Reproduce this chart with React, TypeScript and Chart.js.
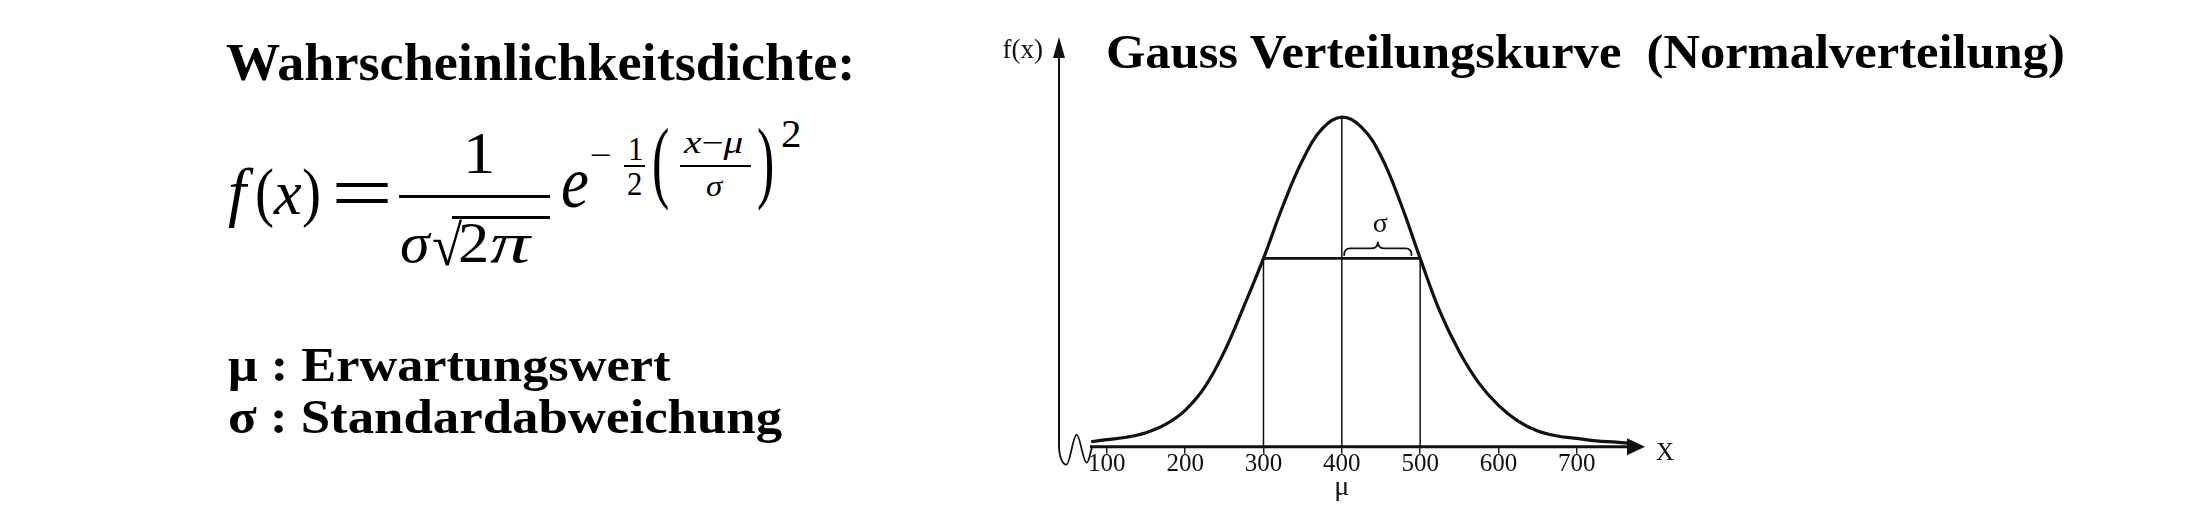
import React, { useEffect, useRef } from "react";
import { Chart, registerables } from "chart.js";

Chart.register(...registerables);

// ---- data ----
const CURVE_X = [80, 100, 125, 150, 175, 200, 225, 250, 275, 300, 325, 350, 375, 400, 425, 450, 475, 500, 525, 550, 575, 600, 625, 650, 675, 700, 725, 750, 775];
const CURVE_Y = [0.06, 0.085, 0.115, 0.17, 0.27, 0.44, 0.72, 1.15, 1.7, 2.28, 2.92, 3.47, 3.85, 3.99, 3.87, 3.52, 2.95, 2.28, 1.64, 1.15, 0.77, 0.5, 0.31, 0.19, 0.13, 0.1, 0.07, 0.055, 0.035];
const TICK_VALUES = [100, 200, 300, 400, 500, 600, 700];
const MU = 400;
const SIGMA_MARK_X = [300, 400, 500];
const SIGMA_MARK_Y = [2.28, 3.99, 2.28];
const BRACE_X = [403, 489];
const BRACE_Y = [2.32, 2.4, 2.48];
const SIGMA_LABEL_X = 449;
const X_RANGE = [39, 787];
const Y_RANGE = [0, 4.96];

const INK = "#111";
const SERIF = '"Liberation Serif", "Times New Roman", serif';

const decor = {
  id: "decor",
  afterDatasetsDraw(chart: any) {
    const { ctx, chartArea: ca, scales } = chart;
    const xs = scales.x;
    const ys = scales.y;
    const ax = ca.left;
    const ay = ys.getPixelForValue(0);
    ctx.save();
    ctx.strokeStyle = INK;
    ctx.fillStyle = INK;
    ctx.lineCap = "round";
    // y axis
    ctx.lineWidth = 2;
    ctx.beginPath();
    ctx.moveTo(ax, ay);
    ctx.lineTo(ax, ca.top + 18);
    ctx.stroke();
    ctx.beginPath();
    ctx.moveTo(ax, ca.top);
    ctx.lineTo(ax - 6, ca.top + 21);
    ctx.lineTo(ax + 6, ca.top + 21);
    ctx.closePath();
    ctx.fill();
    // squiggle (axis break)
    ctx.lineWidth = 1.8;
    ctx.beginPath();
    ctx.moveTo(ax, ay);
    ctx.bezierCurveTo(ax + 0.5, ay + 12, ax + 4, ay + 18, ax + 7.4, ay + 18);
    ctx.bezierCurveTo(ax + 11, ay + 18, ax + 14, ay - 12, ax + 17.7, ay - 12);
    ctx.bezierCurveTo(ax + 21, ay - 12, ax + 24, ay + 16, ax + 27.7, ay + 16);
    ctx.bezierCurveTo(ax + 30, ay + 16, ax + 31, ay + 6, ax + 33, ay + 1);
    ctx.stroke();
    // x axis
    ctx.lineWidth = 3;
    ctx.lineCap = "butt";
    ctx.beginPath();
    ctx.moveTo(ax + 31, ay);
    ctx.lineTo(ca.right - 15, ay);
    ctx.stroke();
    ctx.beginPath();
    ctx.moveTo(ca.right, ay);
    ctx.lineTo(ca.right - 18, ay - 8.5);
    ctx.lineTo(ca.right - 18, ay + 8.5);
    ctx.closePath();
    ctx.fill();
    // brace over sigma
    const b1 = xs.getPixelForValue(BRACE_X[0]);
    const b2 = xs.getPixelForValue(BRACE_X[1]);
    const bm = (b1 + b2) / 2;
    const yTip = ys.getPixelForValue(BRACE_Y[0]);
    const yBar = ys.getPixelForValue(BRACE_Y[1]);
    const yCusp = ys.getPixelForValue(BRACE_Y[2]);
    ctx.lineWidth = 1.8;
    ctx.lineCap = "round";
    ctx.beginPath();
    ctx.moveTo(b1, yTip);
    ctx.quadraticCurveTo(b1, yBar, b1 + 6, yBar);
    ctx.lineTo(bm - 6, yBar);
    ctx.quadraticCurveTo(bm, yBar, bm, yCusp);
    ctx.quadraticCurveTo(bm, yBar, bm + 6, yBar);
    ctx.lineTo(b2 - 6, yBar);
    ctx.quadraticCurveTo(b2, yBar, b2, yTip);
    ctx.stroke();
    // labels
    ctx.textBaseline = "alphabetic";
    ctx.font = `27px ${SERIF}`;
    ctx.textAlign = "right";
    ctx.fillText("f(x)", ax - 16, ca.top + 21);
    ctx.textAlign = "left";
    ctx.font = `25px ${SERIF}`;
    ctx.fillText("X", ca.right + 11, ay + 13);
    ctx.textAlign = "center";
    ctx.font = `28px ${SERIF}`;
    ctx.fillText("μ", xs.getPixelForValue(MU), ay + 48);
    ctx.font = `28px ${SERIF}`;
    ctx.fillText("σ", xs.getPixelForValue(SIGMA_LABEL_X), yCusp - 10);
    ctx.restore();
  },
};

function G(p: { t: React.ReactNode; x: number; b: number; s: number; it?: boolean; bold?: boolean; sx?: number; sy?: number }) {
  const asc = 0.8375 * p.s;
  return (
    <span
      style={{
        position: "absolute",
        left: p.x,
        top: p.b - asc,
        fontFamily: SERIF,
        fontSize: p.s,
        lineHeight: `${p.s}px`,
        fontStyle: p.it ? "italic" : "normal",
        fontWeight: p.bold ? 700 : 400,
        whiteSpace: "pre",
        color: "#000",
        transform: `scale(${p.sx ?? 1},${p.sy ?? 1})`,
        transformOrigin: `0px ${asc}px`,
      }}
    >
      {p.t}
    </span>
  );
}

function Rule(p: { x: number; w: number; y: number; h: number }) {
  return <div style={{ position: "absolute", left: p.x, top: p.y, width: p.w, height: p.h, background: "#000" }} />;
}

export default function App() {
  const ref = useRef<HTMLCanvasElement>(null);
  useEffect(() => {
    const curve = CURVE_X.map((x, i) => ({ x, y: CURVE_Y[i] }));
    const verticals = SIGMA_MARK_X.map((x, i) => ({
      data: [
        { x, y: 0 },
        { x, y: SIGMA_MARK_Y[i] },
      ],
      borderColor: INK,
      borderWidth: 1.5,
      pointRadius: 0,
    }));
    const chart = new Chart(ref.current!, {
      type: "line",
      data: {
        datasets: [
          {
            data: curve,
            borderColor: INK,
            borderWidth: 3.2,
            pointRadius: 0,
            tension: 0.4,
          } as any,
          ...verticals,
          {
            data: [
              { x: SIGMA_MARK_X[0], y: SIGMA_MARK_Y[0] },
              { x: SIGMA_MARK_X[2], y: SIGMA_MARK_Y[2] },
            ],
            borderColor: INK,
            borderWidth: 2.6,
            pointRadius: 0,
          },
        ],
      },
      options: {
        responsive: false,
        maintainAspectRatio: false,
        animation: false,
        devicePixelRatio: 1,
        layout: { padding: { left: 79, right: 555, top: 37, bottom: 30.3 } },
        plugins: { legend: { display: false }, tooltip: { enabled: false }, title: { display: false } },
        scales: {
          x: {
            type: "linear",
            min: X_RANGE[0],
            max: X_RANGE[1],
            afterBuildTicks: (s: any) => {
              s.ticks = TICK_VALUES.map((v) => ({ value: v }));
            },
            afterFit: (s: any) => {
              s.height = 40;
            },
            border: { display: false },
            grid: { display: true, drawOnChartArea: false, drawTicks: true, tickLength: 7, color: "#222", lineWidth: 1.5 },
            ticks: { font: { family: SERIF, size: 25 }, color: INK, padding: -4, autoSkip: false, maxRotation: 0 },
          },
          y: { type: "linear", display: false, min: Y_RANGE[0], max: Y_RANGE[1] },
        },
      } as any,
      plugins: [decor],
    });
    return () => chart.destroy();
  }, []);

  return (
    <div style={{ position: "absolute", left: 0, top: 0, width: 2200, height: 517, overflow: "hidden", background: "#fff" }}>
      {/* left panel */}
      <G t="Wahrscheinlichkeitsdichte:" x={226} b={80} s={40} bold sx={1.355} sy={1.3} />
      <G t="f" x={228} b={215} s={52} it sx={1.25} sy={1.25} />
      <G t="(" x={255} b={215} s={52} sx={1.1} sy={1.25} />
      <G t="x" x={274} b={215} s={52} it sx={1.2} sy={1.2} />
      <G t=")" x={302} b={215} s={52} sx={1.1} sy={1.25} />
      <G t="=" x={331} b={220} s={50} sx={2.2} sy={1.6} />
      <G t="1" x={463} b={173} s={50} sx={1.3} sy={1.2} />
      <Rule x={399} w={151} y={194.5} h={3.2} />
      <G t="σ" x={400} b={262} s={50} it sx={1.2} sy={1.15} />
      <G t="√" x={432} b={265} s={50} sx={1.1} sy={1.15} />
      <Rule x={452} w={98} y={216} h={2.6} />
      <G t="2" x={458} b={262} s={50} sx={1.25} sy={1.15} />
      <G t="π" x={490} b={262} s={50} it sx={1.6} sy={1.15} />
      <G t="e" x={561} b={207} s={74} it sx={0.85} />
      <G t="−" x={590} b={165} s={30} sx={1.3} />
      <G t="1" x={628} b={160} s={28} sx={1.1} sy={1.2} />
      <Rule x={624} w={21} y={165} h={1.8} />
      <G t="2" x={627} b={195} s={28} sx={1.1} sy={1.2} />
      <G t="(" x={652} b={192} s={40} sx={1.3} sy={2.27} />
      <G
        t={
          <>
            <i>x</i>−<i>μ</i>
          </>
        }
        x={684}
        b={153}
        s={28}
        sx={1.4}
        sy={1.1}
      />
      <Rule x={680} w={71} y={165} h={2} />
      <G t="σ" x={706} b={196} s={30} it sx={1.1} />
      <G t=")" x={757} b={192} s={40} sx={1.3} sy={2.27} />
      <G t="2" x={781} b={147} s={41} />
      <G t="μ : Erwartungswert" x={228} b={381} s={38} bold sx={1.377} sy={1.25} />
      <G t="σ : Standardabweichung" x={228} b={433} s={38} bold sx={1.39} sy={1.25} />
      {/* chart */}
      <canvas ref={ref} width={1220} height={517} style={{ position: "absolute", left: 980, top: 0, width: 1220, height: 517 }} />
      <G t="Gauss Verteilungskurve  (Normalverteilung)" x={1106} b={68} s={38} bold sx={1.33} sy={1.25} />
    </div>
  );
}
